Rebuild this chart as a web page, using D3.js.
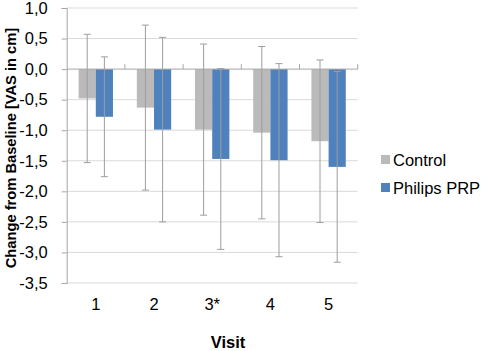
<!DOCTYPE html>
<html>
<head>
<meta charset="utf-8">
<script src="https://cdn.jsdelivr.net/npm/d3@7/dist/d3.min.js"></script>
<style>
  body { margin: 0; background: #fff; }
  svg { display: block; font-family: "Liberation Sans", Arial, sans-serif; }
</style>
</head>
<body>
<svg id="chart" width="486" height="351"></svg>
<script>
const visits = ["1", "2", "3*", "4", "5"];
const seriesNames = ["Control", "Philips PRP"];
const controlMean = [-0.48, -0.63, -0.99, -1.04, -1.18];
const controlSD   = [1.05, 1.35, 1.40, 1.41, 1.33];
const prpMean     = [-0.78, -0.99, -1.47, -1.49, -1.60];
const prpSD       = [0.98, 1.51, 1.48, 1.58, 1.56];
const yTicks = [1.0, 0.5, 0.0, -0.5, -1.0, -1.5, -2.0, -2.5, -3.0, -3.5];
const colors = ["#bababa", "#4f81bd"];

const svg = d3.select("#chart");
const pLeft = 66.7, pRight = 357.7, pTop = 8, pBottom = 283;

const y = d3.scaleLinear().domain([-3.5, 1]).range([pBottom, pTop]);
const x = d3.scaleBand().domain(visits).range([pLeft, pRight]).paddingInner(0.41).paddingOuter(0.205);
const xs = d3.scaleBand().domain(seriesNames).range([0, x.bandwidth()]);
const fmt = v => d3.format(".1f")(v).replace(".", ",").replace("−", "-");

// gridlines
svg.append("g").selectAll("line").data(yTicks.filter(t => t !== 0)).join("line")
  .attr("x1", pLeft).attr("x2", pRight)
  .attr("y1", d => y(d)).attr("y2", d => y(d))
  .attr("stroke", "#d9d9d9").attr("stroke-width", 1);

// y axis
const yAxis = d3.axisLeft(y).tickValues(yTicks).tickFormat(fmt).tickSize(5).tickPadding(14);
const gy = svg.append("g").attr("transform", `translate(${pLeft},0)`).call(yAxis);
gy.select(".domain").attr("stroke", "#a6a6a6");
gy.selectAll(".tick line").attr("stroke", "#a6a6a6");
gy.selectAll(".tick text").attr("font-size", "16.5px").attr("fill", "#000")
  .style("font-family", "'Liberation Sans', Arial, sans-serif");

// bars
const data = visits.map((v, i) => ({
  visit: v,
  vals: [
    { s: seriesNames[0], m: controlMean[i], sd: controlSD[i], c: colors[0] },
    { s: seriesNames[1], m: prpMean[i], sd: prpSD[i], c: colors[1] }
  ]
}));

const groups = svg.append("g").selectAll("g").data(data).join("g")
  .attr("transform", d => `translate(${x(d.visit)},0)`);
groups.selectAll("rect").data(d => d.vals).join("rect")
  .attr("x", d => xs(d.s)).attr("width", xs.bandwidth())
  .attr("y", d => y(Math.max(0, d.m))).attr("height", d => Math.abs(y(d.m) - y(0)))
  .attr("fill", d => d.c);

// x axis at zero with upward ticks at category boundaries
const gx = svg.append("g");
gx.append("line").attr("x1", pLeft).attr("x2", pRight).attr("y1", y(0)).attr("y2", y(0))
  .attr("stroke", "#a6a6a6");
const bounds = visits.map(v => x(v) - x.step() * x.paddingInner() / 2 + x.step());
gx.selectAll("line.tk").data(bounds).join("line").attr("class", "tk")
  .attr("x1", d => d).attr("x2", d => d).attr("y1", y(0)).attr("y2", y(0) - 5)
  .attr("stroke", "#a6a6a6");

// error bars
const eb = groups.selectAll("g.eb").data(d => d.vals).join("g").attr("class", "eb")
  .attr("stroke", "#9e9e9e").attr("stroke-width", 1);
eb.append("line")
  .attr("x1", d => xs(d.s) + xs.bandwidth() / 2).attr("x2", d => xs(d.s) + xs.bandwidth() / 2)
  .attr("y1", d => y(d.m + d.sd)).attr("y2", d => y(d.m - d.sd));
eb.append("line")
  .attr("x1", d => xs(d.s) + xs.bandwidth() / 2 - 3.5).attr("x2", d => xs(d.s) + xs.bandwidth() / 2 + 3.5)
  .attr("y1", d => y(d.m + d.sd)).attr("y2", d => y(d.m + d.sd));
eb.append("line")
  .attr("x1", d => xs(d.s) + xs.bandwidth() / 2 - 3.5).attr("x2", d => xs(d.s) + xs.bandwidth() / 2 + 3.5)
  .attr("y1", d => y(d.m - d.sd)).attr("y2", d => y(d.m - d.sd));

// category labels
svg.append("g").selectAll("text").data(visits).join("text")
  .attr("x", d => x(d) + x.bandwidth() / 2).attr("y", 310)
  .attr("text-anchor", "middle").attr("font-size", "16.5px").attr("fill", "#000")
  .text(d => d);

// axis titles
svg.append("text").attr("x", 228).attr("y", 348).attr("text-anchor", "middle")
  .attr("font-size", "16.5px").attr("font-weight", "bold").text("Visit");
svg.append("text").attr("transform", "translate(16,148) rotate(-90)").attr("text-anchor", "middle")
  .attr("font-size", "14.7px").attr("font-weight", "bold").text("Change from Baseline [VAS in cm]");

// legend
const lg = svg.append("g").selectAll("g").data(seriesNames).join("g")
  .attr("transform", (d, i) => `translate(381,${155 + i * 28})`);
lg.append("rect").attr("width", 9).attr("height", 9).attr("fill", (d, i) => colors[i]);
lg.append("text").attr("x", 12).attr("y", 10.5).attr("font-size", "16.5px").attr("fill", "#000").text(d => d);
</script>
</body>
</html>
